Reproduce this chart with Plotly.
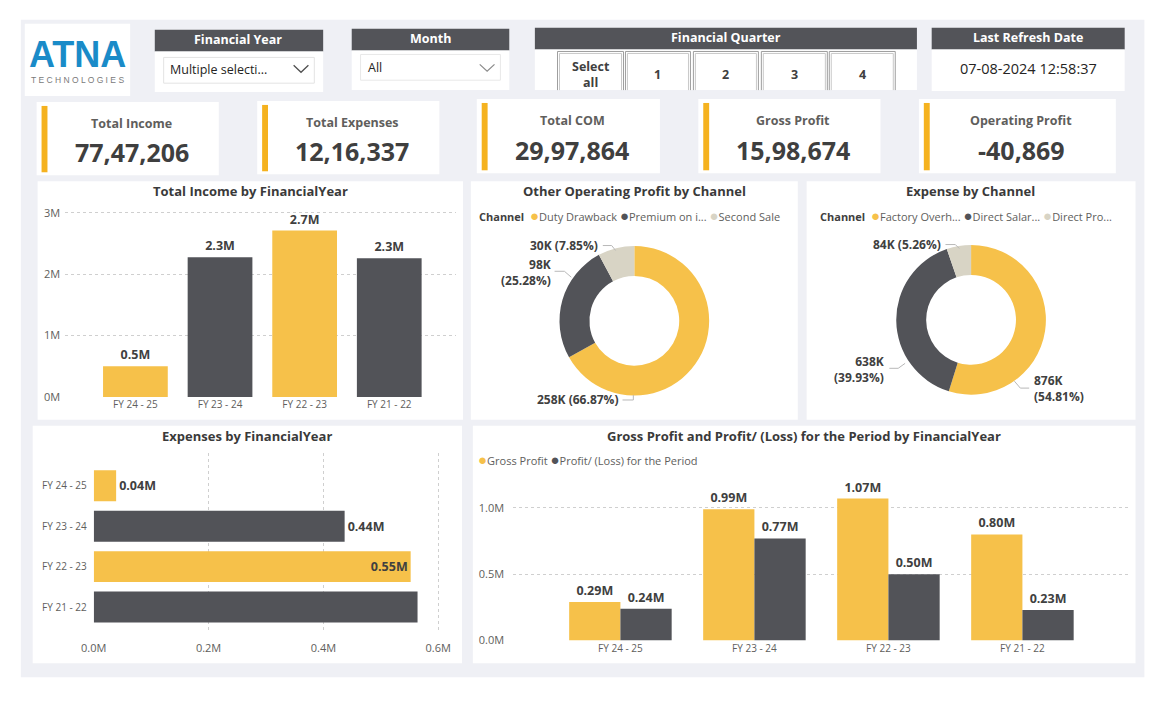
import plotly.graph_objects as go

W, H = 1174, 705

# ---------------- data ----------------
fiscal_years = ["FY 24 - 25", "FY 23 - 24", "FY 22 - 23", "FY 21 - 22"]
total_income = [500000, 2274000, 2710000, 2258000]
expenses = [39000, 437000, 552000, 564000]
gross_profit = [290000, 990000, 1070000, 800000]
profit_loss = [240000, 770000, 500000, 230000]

op_channels = ["Duty Drawback", "Premium on i...", "Second Sale"]
op_values = [258118, 97581, 30301]
exp_channels = ["Factory Overh...", "Direct Salar...", "Direct Pro..."]
exp_values = [876233, 638350, 84091]

kpi_titles = ["Total Income", "Total Expenses", "Total COM", "Gross Profit", "Operating Profit"]
kpi_values = [7747206, 1216337, 2997864, 1598674, -40869]

quarter_buttons = ["Select<br>all", "1", "2", "3", "4"]
refresh_date = "07-08-2024 12:58:37"

income_ticks = [0, 1e6, 2e6, 3e6]
income_ticklabels = ["0M", "1M", "2M", "3M"]
exp_ticks = [0, 2e5, 4e5, 6e5]
exp_ticklabels = ["0.0M", "0.2M", "0.4M", "0.6M"]
gp_ticks = [0, 5e5, 1e6]
gp_ticklabels = ["0.0M", "0.5M", "1.0M"]

# ---------------- style ----------------
YEL = "#F6C14A"
DARK = "#525358"
BEIGE = "#D8D4C5"
ACCENT = "#F5B21F"
HEAD = "#535459"
BG = "#EFF0F5"
TXT = "#404040"
AX = "#605E5C"
FONT = "Open Sans"
alt_colors = [YEL, DARK, YEL, DARK]


def X(px):
    return px / W


def Y(py):
    return 1 - py / H


def inr(n):
    s = str(abs(n))
    if len(s) > 3:
        head, tail = s[:-3], s[-3:]
        groups = []
        while len(head) > 2:
            groups.insert(0, head[-2:])
            head = head[:-2]
        if head:
            groups.insert(0, head)
        s = ",".join(groups) + "," + tail
    return ("-" if n < 0 else "") + s


shapes = []
annotations = []


def box(x0, y0, x1, y1, fill, line=None, lw=0, layer="below"):
    shapes.append(dict(type="rect", xref="paper", yref="paper",
                       x0=X(x0), x1=X(x1), y0=Y(y1), y1=Y(y0),
                       fillcolor=fill, layer=layer,
                       line=dict(color=line or fill, width=lw)))


def path(pts, color, width=1, layer="above"):
    d = "M " + " L ".join(f"{X(a)},{Y(b)}" for a, b in pts)
    shapes.append(dict(type="path", xref="paper", yref="paper", path=d,
                       layer=layer, line=dict(color=color, width=width)))


def txt(x, y, s, size=12, color=TXT, bold=False, xanchor="center",
        family=FONT, align="center"):
    annotations.append(dict(x=X(x), y=Y(y), xref="paper", yref="paper",
                            text=s, showarrow=False, xanchor=xanchor,
                            yanchor="middle", align=align,
                            font=dict(size=size, color=color, family=family,
                                      weight="bold" if bold else "normal")))


# ---------------- background & frames ----------------
box(8, 20, 1149, 684, BG)

# logo
box(12, 24, 119, 97, "white")
txt(66, 55, "ATNA", 36, "#1A8BC8", True, family="Liberation Sans")
txt(66, 81, "T E C H N O L O G I E S", 8.5, "#7A7A7A", family="Liberation Sans")

# Financial Year slicer
box(144, 30, 315, 52, HEAD)
box(144, 52, 315, 93, "white")
txt(229, 40, "Financial Year", 12.5, "white", True)
box(153, 58, 306, 84, "white", "#E3E3E3", 1)
txt(157, 70, "Multiple selecti...", 12.5, "#252423", xanchor="left")
path([(285, 66), (292.5, 73), (300, 66)], "#505050", 1.3)

# Month slicer
box(344, 29, 504, 51, HEAD)
box(344, 51, 504, 91, "white")
txt(424, 39, "Month", 12.5, "white", True)
box(353, 55, 495, 81, "white", "#E8E8E8", 1)
txt(358, 68, "All", 12.5, "#252423", xanchor="left")
path([(474, 65), (481.5, 72), (489, 65)], "#8A8A8A", 1.2)

# Financial Quarter slicer
box(530, 28, 918, 50, HEAD)
box(530, 50, 918, 91, "white")
txt(724, 38, "Financial Quarter", 12.5, "white", True)
btn_x = [(553, 620), (622, 688), (691, 757), (760, 827), (829, 896)]
for (a, b), lab in zip(btn_x, quarter_buttons):
    path([(a, 91), (a, 52), (b, 52), (b, 91)], "#9E9E9E", 1)
    path([(a + 2, 91), (a + 2, 54), (b - 2, 54), (b - 2, 91)], "#C9C9C9", 1)
    txt((a + b) / 2, 75, lab, 12.5, TXT, True)

# Last Refresh Date
box(933, 28, 1129, 50, HEAD)
box(933, 50, 1129, 92, "white")
txt(1031, 38, "Last Refresh Date", 12.5, "white", True)
txt(1031, 69, refresh_date, 14.5, "#252423")

# KPI cards
kpi_boxes = [(24, 103, 209, 177), (248, 102, 433, 176), (471, 100, 657, 175),
             (696, 100, 881, 175), (920, 100, 1120, 175)]
for (x0, y0, x1, y1), t, v in zip(kpi_boxes, kpi_titles, kpi_values):
    box(x0, y0, x1, y1, "white")
    box(x0 + 5, y0 + 4, x0 + 11, y1 - 3, ACCENT)
    cx = (x0 + x1) / 2 + 4
    txt(cx, y0 + 22, t, 12.5, AX, True)
    txt(cx, y0 + 51, inr(v), 25, "#3F3F3F", True)

# chart panels
box(25, 183, 457, 424, "white")
box(465, 183, 797, 424, "white")
box(806, 183, 1140, 424, "white")
box(20, 430, 456, 670, "white")
box(467, 430, 1140, 670, "white")

# titles
TT = "#3A3A3A"
txt(241, 193, "Total Income by FinancialYear", 13, TT, True)
txt(631, 193, "Other Operating Profit by Channel", 13, TT, True)
txt(972, 193, "Expense by Channel", 13, TT, True)
txt(238, 440, "Expenses by FinancialYear", 13, TT, True)
txt(803, 440, "Gross Profit and Profit/ (Loss) for the Period by FinancialYear", 13, TT, True)


# legends
def legend_html(items, colors, title=None):
    parts = []
    if title:
        parts.append(f"<b><span style='color:{TXT}'>{title}</span></b> ")
    for it, c in zip(items, colors):
        parts.append(f"<span style='color:{c};font-size:15px'>●</span>{it}")
    return " ".join(parts)


txt(471, 217, legend_html(op_channels, [YEL, DARK, BEIGE], "Channel"), 11, AX, xanchor="left")
txt(818, 217, legend_html(exp_channels, [YEL, DARK, BEIGE], "Channel"), 11, AX, xanchor="left")
txt(470, 464, legend_html(["Gross Profit", "Profit/ (Loss) for the Period"], [YEL, DARK]), 11, AX, xanchor="left")


# donut labels
def dlab(vals, i, br=False):
    tot = sum(vals)
    k = f"{round(vals[i] / 1000)}K"
    p = f"({vals[i] / tot * 100:.2f}%)"
    return k + ("<br>" if br else " ") + p


LC = "#B8B8B8"
LS = 12
txt(596, 248, dlab(op_values, 2), LS, TXT, True, xanchor="right")
path([(599, 248), (608, 248), (612, 253)], LC)
txt(548, 275, dlab(op_values, 1, True), LS, TXT, True, xanchor="right", align="right")
path([(550, 274), (560, 274), (567, 280)], LC)
txt(616, 404, dlab(op_values, 0), LS, TXT, True, xanchor="right")
path([(619, 404), (630, 404), (630, 399)], LC)

txt(944, 247, dlab(exp_values, 2), LS, TXT, True, xanchor="right")
path([(947, 247), (957, 247), (961, 251)], LC)
txt(887, 373, dlab(exp_values, 1, True), LS, TXT, True, xanchor="right", align="right")
path([(890, 372), (899, 372), (906, 367)], LC)
txt(1035, 392, dlab(exp_values, 0, True), LS, TXT, True, xanchor="left", align="left")
path([(1017, 385), (1023, 392), (1032, 392)], LC)

# ---------------- traces ----------------
fig = go.Figure()

lab_font = dict(family=FONT, size=12.5, color=TXT, weight="bold")

fig.add_trace(go.Bar(
    x=fiscal_years, y=total_income, marker=dict(color=alt_colors, line=dict(width=0)),
    text=[f"{v / 1e6:.1f}M" for v in total_income], textposition="outside",
    outsidetextfont=lab_font, cliponaxis=False, xaxis="x", yaxis="y",
    showlegend=False, hoverinfo="x+y"))

fig.add_trace(go.Bar(
    y=fiscal_years, x=expenses, orientation="h",
    marker=dict(color=alt_colors, line=dict(width=0)),
    text=[f"{v / 1e6:.2f}M" for v in expenses],
    textposition=["outside", "outside", "inside", "none"],
    insidetextanchor="end", insidetextfont=lab_font, outsidetextfont=lab_font,
    cliponaxis=False, xaxis="x2", yaxis="y2", showlegend=False))

fig.add_trace(go.Bar(
    x=fiscal_years, y=gross_profit, name="Gross Profit",
    marker=dict(color=YEL, line=dict(width=0)),
    text=[f"{v / 1e6:.2f}M" for v in gross_profit], textposition="outside",
    outsidetextfont=lab_font, cliponaxis=False, xaxis="x3", yaxis="y3",
    showlegend=False))
fig.add_trace(go.Bar(
    x=fiscal_years, y=profit_loss, name="Profit/ (Loss) for the Period",
    marker=dict(color=DARK, line=dict(width=0)),
    text=[f"{v / 1e6:.2f}M" for v in profit_loss], textposition="outside",
    outsidetextfont=lab_font, cliponaxis=False, xaxis="x3", yaxis="y3",
    showlegend=False))

fig.add_trace(go.Pie(
    labels=op_channels, values=op_values, hole=0.6, sort=False,
    direction="clockwise", rotation=0, textinfo="none",
    marker=dict(colors=[YEL, DARK, BEIGE], line=dict(width=0)),
    domain=dict(x=[X(555), X(707)], y=[Y(400), Y(248)]), showlegend=False))
fig.add_trace(go.Pie(
    labels=exp_channels, values=exp_values, hole=0.6, sort=False,
    direction="clockwise", rotation=0, textinfo="none",
    marker=dict(colors=[YEL, DARK, BEIGE], line=dict(width=0)),
    domain=dict(x=[X(897), X(1049)], y=[Y(399), Y(247)]), showlegend=False))

tickf = dict(family=FONT, size=10, color=AX)
ytickf = dict(family=FONT, size=11, color=AX)
grid = dict(showgrid=True, gridcolor="#CFCFCF", griddash="dot", gridwidth=1)
nogrid = dict(showgrid=False, zeroline=False, showline=False, ticks="")

fig.update_layout(
    width=W, height=H, margin=dict(l=0, r=0, t=0, b=0),
    paper_bgcolor="white", plot_bgcolor="rgba(0,0,0,0)",
    font=dict(family=FONT, color=TXT),
    barmode="group", bargap=0.235, bargroupgap=0,
    showlegend=False,
    shapes=shapes, annotations=annotations,
    xaxis=dict(domain=[X(53), X(450)], range=[-0.83, 3.79], anchor="y",
               tickfont=tickf, **nogrid),
    yaxis=dict(domain=[Y(401), Y(205)], range=[0, 3.16e6], anchor="x",
               tickvals=income_ticks, ticktext=income_ticklabels,
               tickfont=ytickf, zeroline=False, ticks="", ticklabelstandoff=4, **grid),
    xaxis2=dict(domain=[X(82), X(440)], range=[0, 0.614e6], anchor="y2",
                tickvals=exp_ticks, ticktext=exp_ticklabels, tickfont=ytickf,
                zeroline=False, ticks="", ticklabelstandoff=8, **grid),
    yaxis2=dict(domain=[Y(638), Y(458)], range=[3.61, -0.80], anchor="x2",
                tickfont=tickf, ticklabelstandoff=6, **nogrid),
    xaxis3=dict(domain=[X(508), X(1134)], range=[-0.80, 3.80], anchor="y3",
                tickfont=tickf, **nogrid),
    yaxis3=dict(domain=[Y(647), Y(480)], range=[0, 1.246e6], anchor="x3",
                tickvals=gp_ticks, ticktext=gp_ticklabels, tickfont=ytickf,
                zeroline=False, ticks="", ticklabelstandoff=8, **grid),
)

fig.write_html("out.html")
